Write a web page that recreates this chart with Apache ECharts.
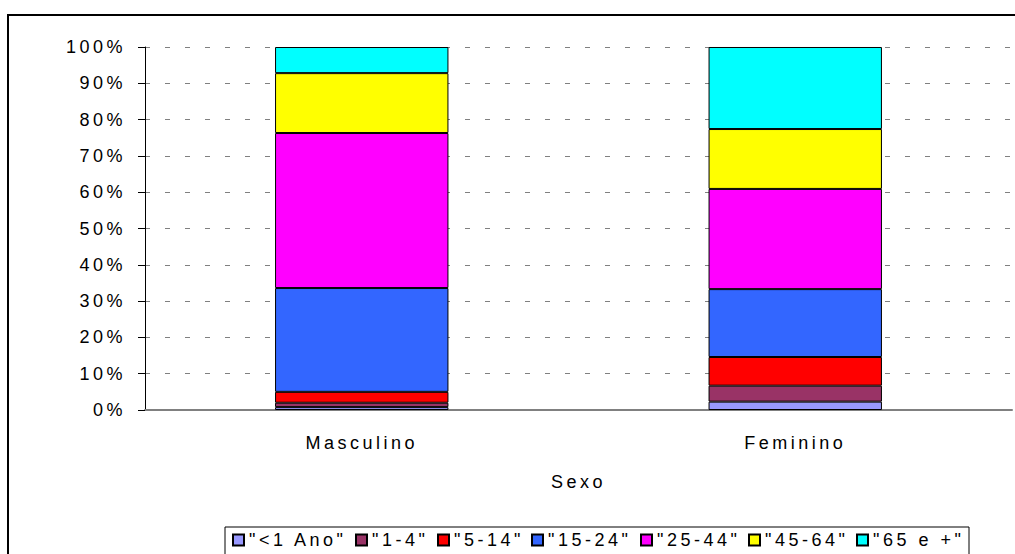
<!DOCTYPE html>
<html>
<head>
<meta charset="utf-8">
<script src="https://cdn.jsdelivr.net/npm/echarts@6/dist/echarts.min.js"></script>
<style>
  html, body { margin: 0; padding: 0; background: #fff; }
  #chart { width: 1015px; height: 554px; overflow: hidden; }
  /* o original tem texto bem espaçado */
  #chart text { letter-spacing: 3.5px !important; }
</style>
</head>
<body>
<div id="chart"></div>
<script>
var categories = ['Masculino', 'Feminino'];
var groupNames = ['"<1 Ano"', '"1-4"', '"5-14"', '"15-24"', '"25-44"', '"45-64"', '"65 e +"'];
var groupColors = ['#9999FF', '#993366', '#FF0000', '#3366FF', '#FF00FF', '#FFFF00', '#00FFFF'];
// percentual por faixa: [Masculino, Feminino]
var menor1 = [0.8, 2.3];
var de1a4 = [1.2, 4.4];
var de5a14 = [3.0, 7.9];
var de15a24 = [28.6, 18.7];
var de25a44 = [42.7, 27.6];
var de45a64 = [16.5, 16.5];
var mais65 = [7.2, 22.6];
var groupValues = [menor1, de1a4, de5a14, de15a24, de25a44, de45a64, mais65];

var font = 'Liberation Sans, Arial, sans-serif';
var fontSize = 18;
var spacing = 3.5;

// largura do texto contando o espaçamento entre letras
var ctx = document.createElement('canvas').getContext('2d');
ctx.font = fontSize + 'px "Liberation Sans"';
function textWidth(s) {
    return ctx.measureText(s).width + s.length * spacing;
}

var chart = echarts.init(document.getElementById('chart'), null, { renderer: 'svg' });

var series = groupNames.map(function (name, i) {
    return {
        name: name,
        type: 'bar',
        stack: 'total',
        barWidth: '40%',
        data: groupValues[i],
        itemStyle: { color: groupColors[i], borderColor: '#000', borderWidth: 1 },
        emphasis: { disabled: true }
    };
});

// uma legenda por item, posicionadas lado a lado (o echarts não conta o letter-spacing)
var legendBoxLeft = 225;
var legendTop = 531;
var legends = [];
var x = legendBoxLeft + 7;
groupNames.forEach(function (name) {
    legends.push({
        data: [name],
        left: Math.round(x),
        top: legendTop,
        padding: 0,
        itemWidth: 11,
        itemHeight: 11,
        itemGap: 0,
        icon: 'rect',
        selectedMode: false,
        textStyle: { fontFamily: font, fontSize: fontSize, color: '#000' }
    });
    x += 11 + 5 + textWidth(name) + 9;
});
var legendBoxWidth = Math.round(x - 9 + 5 - legendBoxLeft);

var option = {
    animation: false,
    graphic: [{
        type: 'rect',
        shape: { x: 8, y: 15, width: 1200, height: 700 },
        style: { fill: 'none', stroke: '#000', lineWidth: 2 },
        silent: true
    }, {
        type: 'rect',
        shape: { x: legendBoxLeft, y: 527, width: legendBoxWidth, height: 40 },
        style: { fill: 'none', stroke: '#000', lineWidth: 1 },
        silent: true
    }],
    grid: { left: 145, right: 3, top: 47, bottom: 144 },
    legend: legends,
    xAxis: {
        type: 'category',
        data: categories,
        name: 'Sexo',
        nameLocation: 'middle',
        nameGap: 63,
        nameTextStyle: { fontFamily: font, fontSize: fontSize, color: '#000' },
        axisLine: { lineStyle: { color: '#808080', width: 2 } },
        axisTick: { length: 6, lineStyle: { color: '#000' } },
        axisLabel: { margin: 24, fontFamily: font, fontSize: fontSize, color: '#000' }
    },
    yAxis: {
        type: 'value',
        min: 0,
        max: 100,
        interval: 10,
        axisLine: { show: true, lineStyle: { color: '#000', width: 1 } },
        axisTick: { show: true, length: 7, lineStyle: { color: '#000' } },
        axisLabel: { margin: 19, fontFamily: font, fontSize: fontSize, color: '#000', formatter: '{value}%' },
        splitLine: { show: true, lineStyle: { color: '#808080', type: [5, 15], width: 1 } }
    },
    series: series
};
chart.setOption(option);
</script>
</body>
</html>
